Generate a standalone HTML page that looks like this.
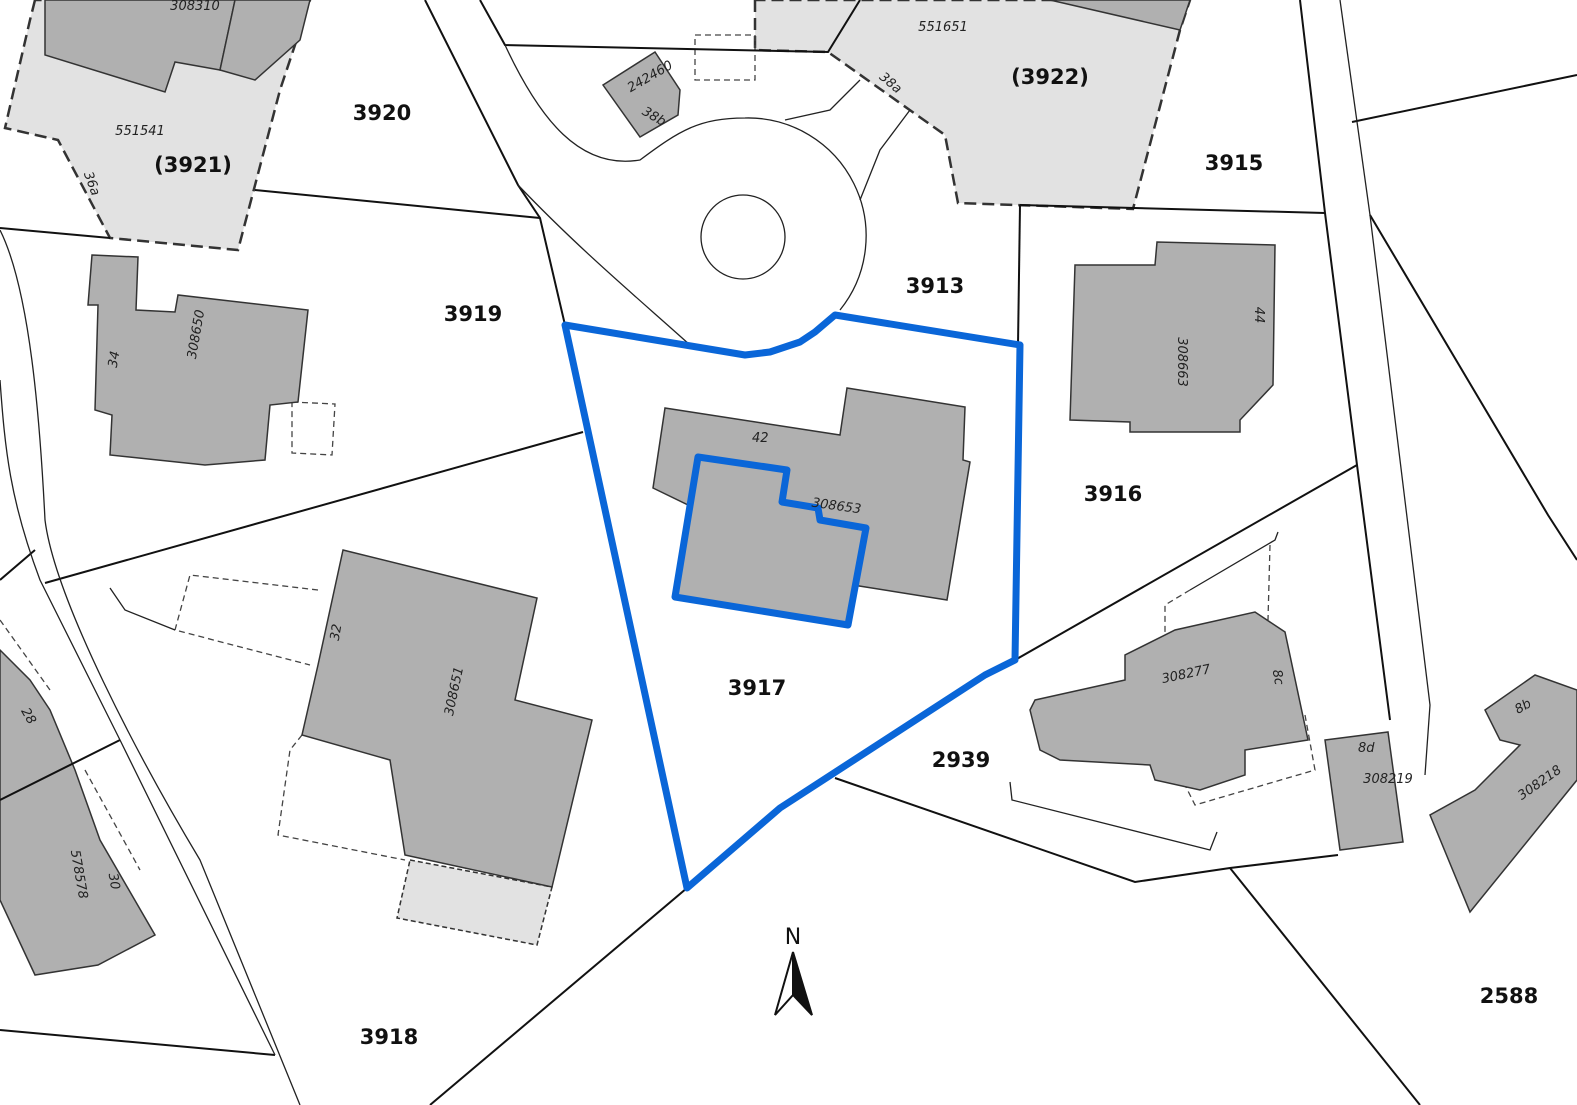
<!DOCTYPE html>
<html><head><meta charset="utf-8"><style>
html,body{margin:0;padding:0;background:#fff}
svg{display:block}
.b{font-family:"DejaVu Sans","Liberation Sans",sans-serif;font-weight:bold;font-size:21px;fill:#111}
.s{font-family:"DejaVu Sans","Liberation Sans",sans-serif;font-style:italic;font-size:13px;fill:#222}
</style></head><body>
<svg width="1577" height="1105" viewBox="0 0 1577 1105" xmlns="http://www.w3.org/2000/svg">
<rect width="1577" height="1105" fill="#fff"/>
<g fill="#e2e2e2" stroke="#333" stroke-width="2.5" stroke-dasharray="12,6">
<polygon points="35,0 30,20 5,128 58,140 110,238 238,250 280,90 310,0"/>
<polygon points="755,0 755,50 828,52 945,135 958,203 1133,209 1180,30 1190,0"/>
</g>
<polygon points="410,860 552,887 537,945 397,918" fill="#e2e2e2" stroke="#333" stroke-width="1.5" stroke-dasharray="5,3"/>
<g fill="none" stroke="#444" stroke-width="1.3" stroke-dasharray="6,4">
<polygon points="695,35 755,35 755,80 695,80"/>
<polygon points="292,402 335,404 332,455 292,453"/>
<polyline points="318,590 190,575 175,630 310,665"/>
<polyline points="302,735 290,750 278,835 405,860"/>
<polyline points="1270,545 1268,620"/>
<polyline points="1190,590 1165,605 1165,640"/>
<polyline points="1305,715 1315,770 1195,805 1185,785"/>
<polyline points="0,620 50,690"/>
<polyline points="85,770 140,870"/>
</g>
<g fill="#b0b0b0" stroke="#333" stroke-width="1.5">
<polygon points="45,0 45,55 165,92 175,62 220,70 235,0"/>
<polygon points="220,70 255,80 300,40 310,0 235,0"/>
<polygon points="1050,0 1180,30 1190,0"/>
<polygon points="603,85 655,52 680,90 678,115 640,137"/>
<polygon points="1075,265 1155,265 1157,242 1275,245 1273,385 1240,420 1240,432 1130,432 1130,422 1070,420"/>
<polygon points="665,408 840,435 847,388 965,407 963,460 970,462 947,600 853,585 653,488"/>
<polygon points="698,457 787,470 782,502 818,508 820,520 866,528 848,625 675,597"/>
<polygon points="92,255 138,257 136,310 175,312 178,295 308,310 298,402 270,405 265,460 205,465 110,455 112,415 95,410 98,305 88,305"/>
<polygon points="343,550 537,598 515,700 592,720 552,887 405,855 390,760 302,735 318,665"/>
<polygon points="1035,700 1125,680 1125,655 1175,630 1255,612 1285,632 1308,740 1245,750 1245,775 1200,790 1155,780 1150,765 1060,760 1040,750 1030,710"/>
<polygon points="1325,740 1388,732 1403,842 1340,850"/>
<polygon points="1485,710 1535,675 1577,690 1577,780 1470,912 1430,815 1475,790 1520,745 1500,740"/>
<polygon points="0,650 30,680 50,710 75,770 100,840 155,935 98,965 35,975 0,900"/>
</g>
<g fill="none" stroke="#111" stroke-width="2">
<polyline points="0,228 110,238"/>
<polyline points="255,190 540,218"/>
<polyline points="425,0 518,185 540,218 565,325"/>
<polyline points="480,0 505,45 828,52 860,0"/>
<polyline points="1020,205 1325,213"/>
<polyline points="1020,205 1018,345"/>
<polyline points="1300,0 1325,213 1357,465 1390,720"/>
<polyline points="1352,122 1577,75"/>
<polyline points="1370,215 1548,515 1577,560"/>
<polyline points="45,583 583,432"/>
<polyline points="1015,660 1357,465"/>
<polyline points="835,778 1135,882 1230,868 1338,855"/>
<polyline points="687,888 430,1105"/>
<polyline points="1230,868 1420,1105"/>
<polyline points="0,1030 275,1055"/>
<polyline points="0,800 120,740"/>
<polyline points="0,580 35,550"/>
</g>
<g fill="none" stroke="#222" stroke-width="1.3">
<path d="M505,45 C540,120 580,170 640,160 C680,130 700,118 745,118 A118,118 0 0 1 840,310"/>
<path d="M518,185 C580,250 640,300 690,345"/>
<circle cx="743" cy="237" r="42"/>
<polyline points="1340,0 1370,215 1430,705 1425,775"/>
<path d="M0,230 C30,290 40,420 45,520 C55,600 140,760 200,860 L300,1105"/>
<path d="M0,380 C5,450 10,500 40,580 L120,740 L275,1055"/>
<polyline points="785,120 830,110 860,80"/>
<polyline points="860,200 880,150 910,110"/>
<polyline points="110,588 125,610 175,630"/>
<polyline points="1010,782 1012,800 1210,850 1217,832"/>
<polyline points="1190,590 1275,540 1278,532"/>
</g>
<g fill="none" stroke="#0a66d8" stroke-width="7" stroke-linejoin="round">
<polygon points="565,325 745,355 770,352 800,342 815,332 835,315 1020,345 1015,660 985,675 780,808 687,888"/>
<polygon points="698,457 787,470 782,502 818,508 820,520 866,528 848,625 675,597"/>
</g>
<text class="b" x="382" y="120" text-anchor="middle">3920</text>
<text class="b" x="193" y="172" text-anchor="middle">(3921)</text>
<text class="b" x="473" y="321" text-anchor="middle">3919</text>
<text class="b" x="935" y="293" text-anchor="middle">3913</text>
<text class="b" x="1050" y="84" text-anchor="middle">(3922)</text>
<text class="b" x="1234" y="170" text-anchor="middle">3915</text>
<text class="b" x="1113" y="501" text-anchor="middle">3916</text>
<text class="b" x="757" y="695" text-anchor="middle">3917</text>
<text class="b" x="961" y="767" text-anchor="middle">2939</text>
<text class="b" x="389" y="1044" text-anchor="middle">3918</text>
<text class="b" x="1509" y="1003" text-anchor="middle">2588</text>
<text class="s" x="140" y="135" text-anchor="middle">551541</text>
<text class="s" x="943" y="31" text-anchor="middle">551651</text>
<text class="s" x="195" y="10" text-anchor="middle">308310</text>
<text class="s" x="836" y="510" text-anchor="middle" transform="rotate(8 836 510)">308653</text>
<text class="s" x="752" y="442">42</text>
<text class="s" x="1358" y="752">8d</text>
<text class="s" x="1388" y="783" text-anchor="middle">308219</text>
<text class="s" x="1187" y="678" text-anchor="middle" transform="rotate(-12 1187 678)">308277</text>
<text class="s" x="0" y="0" transform="translate(200,335) rotate(-80)" text-anchor="middle">308650</text>
<text class="s" x="0" y="0" transform="translate(458,692) rotate(-78)" text-anchor="middle">308651</text>
<text class="s" x="0" y="0" transform="translate(1178,362) rotate(90)" text-anchor="middle">308663</text>
<text class="s" x="0" y="0" transform="translate(1542,786) rotate(-35)" text-anchor="middle">308218</text>
<text class="s" x="0" y="0" transform="translate(652,80) rotate(-30)" text-anchor="middle">242460</text>
<text class="s" x="0" y="0" transform="translate(118,360) rotate(-80)" text-anchor="middle">34</text>
<text class="s" x="0" y="0" transform="translate(340,633) rotate(-80)" text-anchor="middle">32</text>
<text class="s" x="0" y="0" transform="translate(1255,315) rotate(90)" text-anchor="middle">44</text>
<text class="s" x="0" y="0" transform="translate(1274,678) rotate(80)" text-anchor="middle">8c</text>
<text class="s" x="0" y="0" transform="translate(888,86) rotate(40)" text-anchor="middle">38a</text>
<text class="s" x="0" y="0" transform="translate(652,120) rotate(30)" text-anchor="middle">38b</text>
<text class="s" x="0" y="0" transform="translate(88,185) rotate(70)" text-anchor="middle">36a</text>
<text class="s" x="1525" y="710" transform="rotate(-30 1525 710)" text-anchor="middle">8b</text>
<text class="s" x="0" y="0" transform="translate(75,875) rotate(80)" text-anchor="middle">578578</text>
<text class="s" x="0" y="0" transform="translate(110,882) rotate(80)" text-anchor="middle">30</text>
<text class="s" x="0" y="0" transform="translate(25,718) rotate(60)" text-anchor="middle">28</text>
<text x="793" y="944" text-anchor="middle" style="font-family:'DejaVu Sans',sans-serif;font-size:22px;fill:#111">N</text>
<polygon points="793,952 775,1015 793,995" fill="#fff" stroke="#111" stroke-width="2"/>
<polygon points="793,952 812,1015 793,995" fill="#111" stroke="#111" stroke-width="2"/>
</svg>
</body></html>
